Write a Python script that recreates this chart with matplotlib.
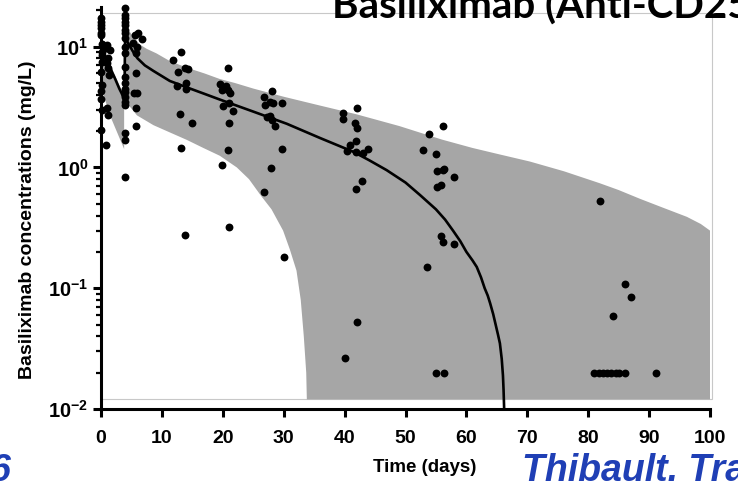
import numpy as np
import matplotlib
matplotlib.use("Agg")
import matplotlib.pyplot as plt
from matplotlib.patches import Rectangle
from matplotlib.ticker import LogLocator, FixedLocator, NullFormatter

# -----------------------------
# Observed concentrations (read off the figure)
# -----------------------------
obs_day = [
    # day 0 column
    0.0, 0.0, 0.0, 0.0, 0.0, 0.0, 0.1, 0.1, 0.1, 0.1, 0.0, 0.1, 0.0, 0.0, 0.1, 0.0,
    # day ~1
    1.0, 1.4, 0.9, 1.2, 1.0, 1.1, 1.3, 1.0, 1.1, 0.9,
    # day ~4 column
    3.9, 3.9, 3.9, 3.9, 3.9, 3.9, 3.9, 3.9, 3.9, 3.9, 3.9,
    3.9, 3.9, 3.9, 3.9, 3.9, 3.9, 3.9, 3.9, 3.9, 3.9,
    # day 5-7
    5.6, 6.1, 6.7, 5.3, 5.9, 5.7, 5.7, 5.4, 5.9, 5.8, 5.8,
    # day 12-15
    11.8, 13.1, 12.7, 13.8, 14.3, 12.5, 13.9, 14.0, 13.0, 14.9, 13.1, 13.8,
    # day 20-21
    19.5, 20.5, 20.9, 19.8, 21.2, 20.0, 21.0, 21.6, 21.0, 20.9, 19.9, 20.8, 21.0,
    # day 27-30
    26.8, 28.0, 27.0, 27.8, 28.2, 29.8, 27.2, 27.7, 28.0, 28.5, 29.8, 27.9, 26.8, 30.0,
    # day 40-44
    39.8, 42.1, 39.8, 41.7, 42.1, 41.9, 40.9, 40.4, 41.9, 43.0, 43.9, 42.8, 41.9, 42.1, 40.0,
    # day 53-58
    53.9, 56.1, 52.8, 55.0, 55.1, 56.1, 56.3, 58.0, 55.1, 55.8, 55.8, 56.1, 58.0, 53.6, 55.0, 56.3,
    # day 80-91
    81.9, 86.1, 87.1, 84.1, 81.0, 81.8, 82.5, 83.1, 83.8, 84.5, 85.1, 86.1, 91.1,
]
obs_conc = [
    17.3, 16.0, 15.1, 14.3, 13.0, 12.5, 10.6, 9.1, 8.5, 7.5, 6.2, 4.8, 4.3, 3.7, 3.0, 2.04,
    10.3, 9.4, 9.7, 8.0, 7.3, 6.6, 5.8, 3.1, 2.7, 1.53,
    20.8, 18.3, 17.2, 16.1, 15.1, 13.7, 13.0, 11.7, 10.0, 8.9, 6.8,
    5.6, 5.0, 4.5, 4.2, 3.85, 3.5, 3.3, 1.91, 1.69, 0.83,
    12.5, 13.0, 11.6, 10.7, 9.9, 8.9, 6.0, 4.1, 4.1, 3.1, 2.2,
    7.7, 9.0, 6.2, 6.65, 6.5, 4.7, 4.98, 4.5, 2.75, 2.32, 1.45, 0.275,
    4.9, 4.7, 4.4, 4.35, 4.15, 3.2, 3.4, 2.94, 2.32, 1.39, 1.05, 6.7, 0.32,
    3.85, 4.3, 3.29, 3.5, 3.4, 3.4, 2.6, 2.67, 2.47, 2.2, 1.43, 0.99, 0.625, 0.182,
    2.84, 3.08, 2.5, 2.35, 2.11, 1.66, 1.53, 1.37, 1.35, 1.31, 1.42, 0.776, 0.659, 0.053, 0.0264,
    1.89, 2.2, 1.39, 1.28, 0.93, 0.95, 0.98, 0.83, 0.69, 0.71, 0.27, 0.243, 0.231, 0.149, 0.02, 0.02,
    0.53, 0.109, 0.084, 0.059, 0.02, 0.02, 0.02, 0.02, 0.02, 0.02, 0.02, 0.02, 0.02,
]

# -----------------------------
# Model median
# -----------------------------
median_day = [0.0, 0.6, 1.2, 1.8, 2.4, 3.0, 3.4, 3.85, 3.95, 4.5, 5.2, 6.0, 7.2, 8.6,
              11.3, 14.1, 16.8, 19.5, 25.0, 30.5, 36.0, 41.4, 44.0, 46.9, 50.0,
              52.4, 55.0, 56.5, 57.8, 59.0, 60.0, 61.0, 61.7, 62.4, 63.0, 63.5,
              63.9, 64.4, 64.8, 65.2, 65.5, 65.8, 66.0, 66.1, 66.2]
median_conc = [9.0, 8.1, 7.3, 6.2, 5.3, 4.5, 4.1, 3.6, 12.0, 10.6, 9.2, 8.0, 7.0, 6.3,
               5.2, 4.6, 4.1, 3.65, 2.9, 2.3, 1.75, 1.35, 1.15, 0.95, 0.75,
               0.59, 0.45, 0.37, 0.30, 0.245, 0.20, 0.17, 0.15, 0.123, 0.10, 0.087,
               0.075, 0.061, 0.05, 0.041, 0.035, 0.026, 0.019, 0.0145, 0.01]

# -----------------------------
# Prediction interval (two dosing phases)
# -----------------------------
pi1_up_day = [0.1, 1.0, 2.3, 3.8]
pi1_up_conc = [8.8, 7.3, 5.8, 3.9]
pi1_lo_day = [0.1, 1.75, 3.8]
pi1_lo_conc = [4.4, 2.5, 1.42]

pi2_up_day = [3.95, 4.6, 5.5, 6.4, 7.5, 9.1, 11.3, 14.1, 17.0, 19.5, 22.0, 25.0, 30.0,
              36.0, 42.0, 49.0, 56.0, 61.0, 65.5, 70.4, 76.0, 81.9, 85.0, 88.5, 92.0,
              96.2, 98.5, 100.0]
pi2_up_conc = [16.0, 13.5, 11.8, 10.4, 9.6, 8.8, 7.6, 6.7, 6.0, 5.4, 5.0, 4.5, 3.85,
               3.25, 2.75, 2.2, 1.7, 1.45, 1.28, 1.12, 0.93, 0.74, 0.65, 0.55, 0.47,
               0.39, 0.34, 0.30]
pi2_lo_day = [3.95, 4.5, 5.9, 8.6, 11.3, 14.1, 16.8, 19.5, 22.3, 24.3, 26.3, 28.0,
              29.9, 31.0, 32.1, 32.8, 33.3, 33.7, 33.8, 100.0]
pi2_lo_conc = [3.6, 3.3, 2.7, 2.24, 1.95, 1.69, 1.45, 1.25, 1.0, 0.8, 0.58, 0.45,
               0.30, 0.21, 0.14, 0.08, 0.04, 0.02, 0.012, 0.012]

x_ticks = [0, 10, 20, 30, 40, 50, 60, 70, 80, 90, 100]
y_ticks = [0.01, 0.1, 1, 10]
y_tick_labels = [r"$\mathbf{10^{-2}}$", r"$\mathbf{10^{-1}}$",
                 r"$\mathbf{10^{0}}$", r"$\mathbf{10^{1}}$"]

SHADE = "#a6a6a6"
BLUE = "#1f3fb5"

plt.rcParams["font.family"] = ["Liberation Sans", "DejaVu Sans"]
plt.rcParams["mathtext.fontset"] = "custom"
plt.rcParams["mathtext.rm"] = "Liberation Sans"
plt.rcParams["mathtext.bf"] = "Liberation Sans:bold"


def band(ax, up_d, up_c, lo_d, lo_c):
    xs = np.concatenate([up_d, lo_d[::-1]])
    ys = np.concatenate([up_c, lo_c[::-1]])
    ax.fill(xs, ys, color=SHADE, lw=0, zorder=1)


def main():
    fig = plt.figure(figsize=(7.38, 4.83), dpi=100)
    ax = fig.add_axes([101 / 738, 74 / 483, 609 / 738, 402 / 483])

    ax.set_yscale("log")
    ax.set_xlim(0, 100)
    ax.set_ylim(0.01, 21.3)

    # frame of the pasted picture
    ax.add_patch(Rectangle((0, 0.025), 1.0033, 0.96, transform=ax.transAxes,
                           fill=False, edgecolor="#c8c8c8", lw=0.8,
                           clip_on=False, zorder=0.5))

    band(ax, np.array(pi1_up_day), np.array(pi1_up_conc),
         np.array(pi1_lo_day), np.array(pi1_lo_conc))
    band(ax, np.array(pi2_up_day), np.array(pi2_up_conc),
         np.array(pi2_lo_day), np.array(pi2_lo_conc))

    ax.plot(median_day, median_conc, color="black", lw=1.9, zorder=3,
            solid_joinstyle="round")
    ax.scatter(obs_day, obs_conc, s=32, color="black", lw=0, zorder=4, clip_on=False)

    for side in ["top", "right"]:
        ax.spines[side].set_visible(False)
    for side in ["left", "bottom"]:
        ax.spines[side].set_linewidth(2.2)

    ax.xaxis.set_major_locator(FixedLocator(x_ticks))
    ax.set_xticklabels([str(v) for v in x_ticks], fontsize=14, fontweight="bold")
    ax.yaxis.set_major_locator(FixedLocator(y_ticks))
    ax.set_yticklabels(y_tick_labels, fontsize=14.5)
    ax.yaxis.set_minor_locator(LogLocator(base=10, subs=np.arange(2, 10)))
    ax.yaxis.set_minor_formatter(NullFormatter())
    ax.tick_params(axis="x", which="major", length=6, width=2.2, pad=9)
    ax.tick_params(axis="y", which="major", length=6, width=2.2, pad=3)
    ax.tick_params(axis="y", which="minor", length=3.5, width=1.6)

    fig.text(28 / 738, 1 - 220 / 483, "Basiliximab concentrations (mg/L)",
             rotation=90, ha="center", va="center", fontsize=14, fontweight="bold")
    fig.text(425 / 738, 1 - 467 / 483, "Time (days)", ha="center", va="center",
             fontsize=13.5, fontweight="bold")

    # slide decorations
    fig.text(332 / 738, 1 - 19 / 483, "Basiliximab (Anti-CD25)", ha="left",
             va="baseline", fontsize=29, fontweight="bold", family="Lato")
    fig.text(522 / 738, 1 - 481 / 483, "Thibault. Tra", ha="left", va="baseline",
             fontsize=27, fontweight="bold", style="italic", color=BLUE)
    fig.text(10 / 738, 1 - 481 / 483, "6", ha="right", va="baseline",
             fontsize=27, fontweight="bold", style="italic", color=BLUE)

    fig.savefig("out.png", dpi=100)


if __name__ == "__main__":
    main()
